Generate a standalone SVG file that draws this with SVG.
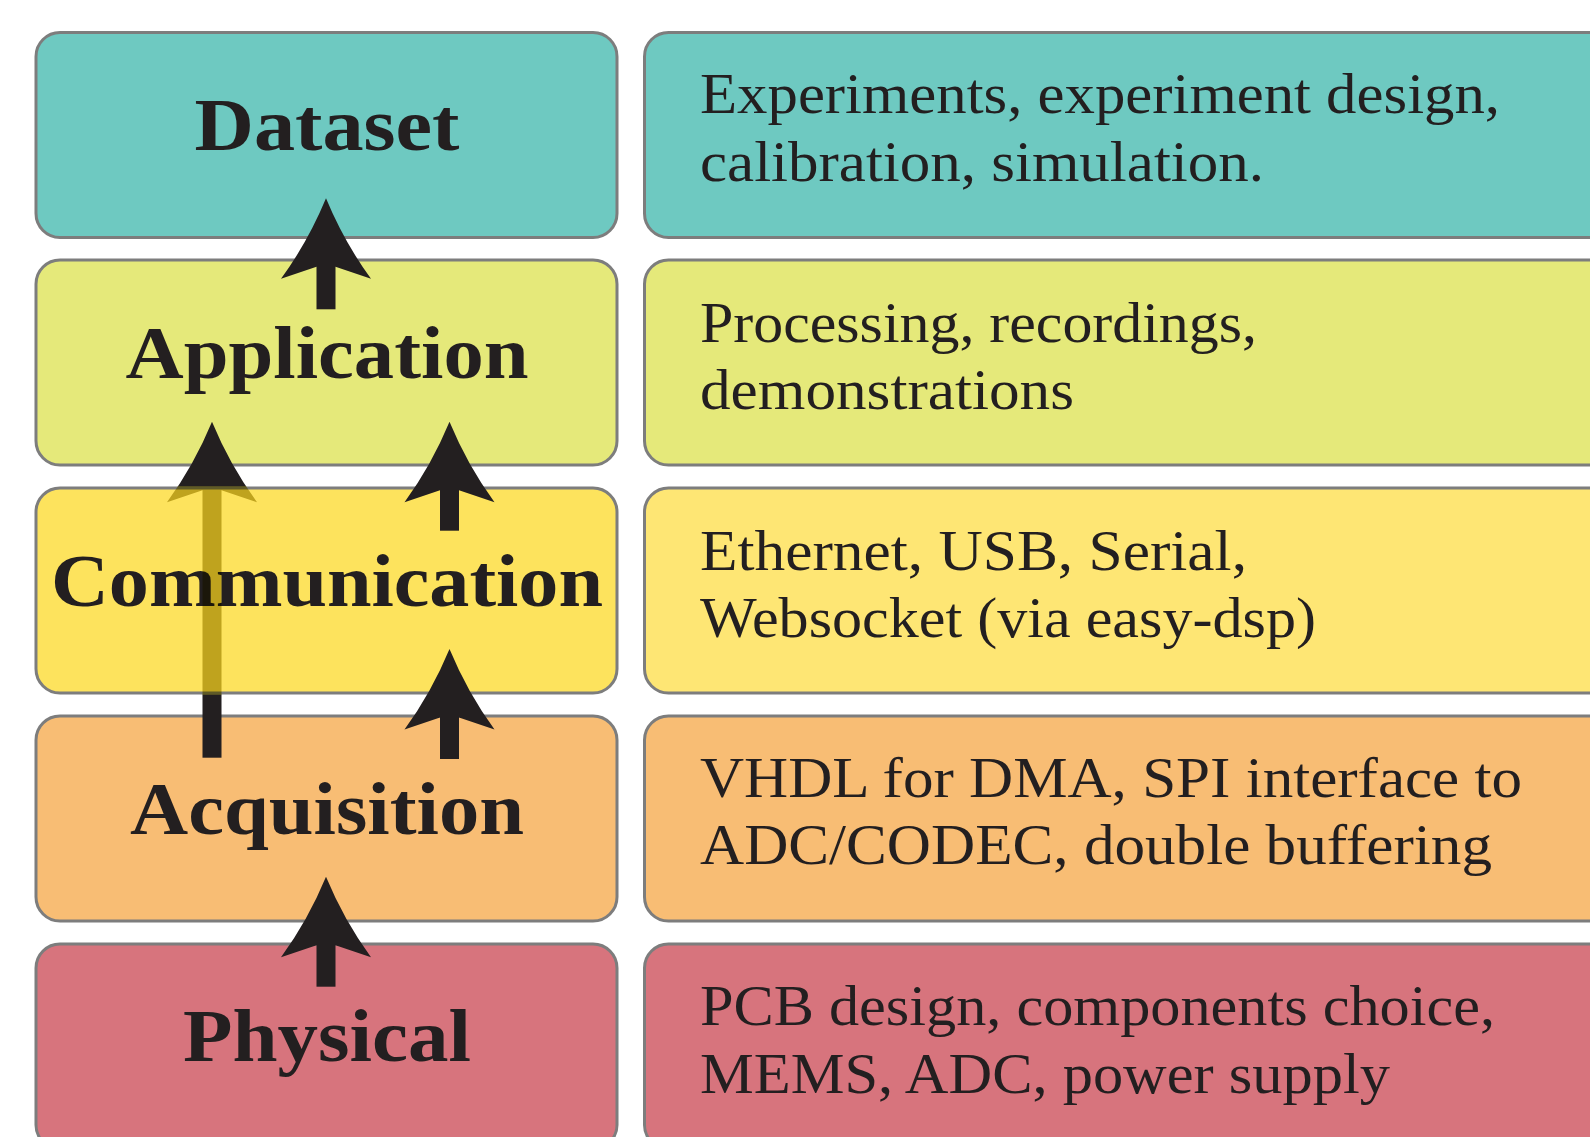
<svg xmlns="http://www.w3.org/2000/svg" xmlns:xlink="http://www.w3.org/1999/xlink" width="1590" height="1137" viewBox="0 0 1590 1137">
  <style>
    .box { stroke: #7d7d7d; stroke-width: 3; }
    .teal { fill: #6EC9C1; }
    .lime { fill: #E5E97A; }
    .yel { fill: #FDE35D; }
    .yel2 { fill: #FEE674; }
    .orange { fill: #F8BD74; }
    .red { fill: #D7747D; }
    .label { font-family: "Liberation Serif", "DejaVu Serif", serif; font-weight: bold; font-size: 73px; fill: #231F20; text-anchor: middle; }
    .desc { font-family: "Liberation Serif", "DejaVu Serif", serif; font-size: 56px; fill: #231F20; }
    .arrow { fill: #231F20; }
    .behind { fill: #C1B750; mix-blend-mode: multiply; }
  </style>
  <defs>
    <path id="head" d="M0,0 Q-18,43.5 -45,80.5 L-9.5,68.5 L9.5,68.5 L45,80.5 Q18,43.5 0,0 Z"/>
    <g id="long-arrow-shape">
      <use xlink:href="#head" href="#head" x="212" y="421.7"/>
      <rect x="202.5" y="489" width="19" height="268.7"/>
    </g>
    <clipPath id="inComm">
      <rect x="30" y="486.5" width="600" height="208"/>
    </clipPath>
    <clipPath id="outComm">
      <path clip-rule="evenodd" d="M0,0 H1590 V1137 H0 Z M30,486.5 H630 V694.5 H30 Z"/>
    </clipPath>
  </defs>

  <g id="dataset">
    <rect class="box teal" x="36" y="32.5" width="581" height="205" rx="24" ry="24"/>
    <text class="label" x="327" y="150" textLength="265" lengthAdjust="spacingAndGlyphs">Dataset</text>
  </g>
  <g id="dataset-desc">
    <rect class="box teal" x="644.5" y="32.5" width="1000" height="205" rx="24" ry="24"/>
    <text class="desc" x="700" y="113" textLength="800" lengthAdjust="spacingAndGlyphs">Experiments, experiment design,</text>
    <text class="desc" x="700" y="181" textLength="564" lengthAdjust="spacingAndGlyphs">calibration, simulation.</text>
  </g>

  <g id="application">
    <rect class="box lime" x="36" y="260" width="581" height="205" rx="24" ry="24"/>
    <text class="label" x="327" y="378" textLength="403" lengthAdjust="spacingAndGlyphs">Application</text>
  </g>
  <g id="application-desc">
    <rect class="box lime" x="644.5" y="260" width="1000" height="205" rx="24" ry="24"/>
    <text class="desc" x="700" y="341.5" textLength="557" lengthAdjust="spacingAndGlyphs">Processing, recordings,</text>
    <text class="desc" x="700" y="408.5" textLength="374" lengthAdjust="spacingAndGlyphs">demonstrations</text>
  </g>

  <g id="communication">
    <rect class="box yel" x="36" y="488" width="581" height="205" rx="24" ry="24"/>
    <text class="label" x="327" y="605.5" textLength="552" lengthAdjust="spacingAndGlyphs">Communication</text>
  </g>
  <g id="communication-desc">
    <rect class="box yel2" x="644.5" y="488" width="1000" height="205" rx="24" ry="24"/>
    <text class="desc" x="700" y="569.5" textLength="547" lengthAdjust="spacingAndGlyphs">Ethernet, USB, Serial,</text>
    <text class="desc" x="700" y="637" textLength="616" lengthAdjust="spacingAndGlyphs">Websocket (via easy-dsp)</text>
  </g>

  <g id="acquisition">
    <rect class="box orange" x="36" y="716" width="581" height="205" rx="24" ry="24"/>
    <text class="label" x="327" y="834" textLength="394" lengthAdjust="spacingAndGlyphs">Acquisition</text>
  </g>
  <g id="acquisition-desc">
    <rect class="box orange" x="644.5" y="716" width="1000" height="205" rx="24" ry="24"/>
    <text class="desc" x="700" y="797" textLength="822" lengthAdjust="spacingAndGlyphs">VHDL for DMA, SPI interface to</text>
    <text class="desc" x="700" y="864" textLength="792" lengthAdjust="spacingAndGlyphs">ADC/CODEC, double buffering</text>
  </g>

  <g id="physical">
    <rect class="box red" x="36" y="944" width="581" height="205" rx="24" ry="24"/>
    <text class="label" x="327" y="1061" textLength="288" lengthAdjust="spacingAndGlyphs">Physical</text>
  </g>
  <g id="physical-desc">
    <rect class="box red" x="644.5" y="944" width="1000" height="205" rx="24" ry="24"/>
    <text class="desc" x="700" y="1025" textLength="795" lengthAdjust="spacingAndGlyphs">PCB design, components choice,</text>
    <text class="desc" x="700" y="1092.5" textLength="690" lengthAdjust="spacingAndGlyphs">MEMS, ADC, power supply</text>
  </g>

  <g id="connectors">
    <g id="arrow-app-dataset" class="arrow">
      <use xlink:href="#head" href="#head" x="326" y="198.3"/>
      <rect x="316.5" y="266" width="19" height="43.3"/>
    </g>
    <g id="arrow-acq-app">
      <use xlink:href="#long-arrow-shape" href="#long-arrow-shape" class="arrow" clip-path="url(#outComm)"/>
      <use xlink:href="#long-arrow-shape" href="#long-arrow-shape" class="behind" clip-path="url(#inComm)"/>
    </g>
    <g id="arrow-comm-app" class="arrow">
      <use xlink:href="#head" href="#head" x="449.5" y="421.7"/>
      <rect x="440" y="489" width="19" height="41.7"/>
    </g>
    <g id="arrow-acq-comm" class="arrow">
      <use xlink:href="#head" href="#head" x="449.5" y="649"/>
      <rect x="440" y="716" width="19" height="43"/>
    </g>
    <g id="arrow-phys-acq" class="arrow">
      <use xlink:href="#head" href="#head" x="326" y="876.7"/>
      <rect x="316.5" y="944" width="19" height="42.7"/>
    </g>
  </g>
</svg>
